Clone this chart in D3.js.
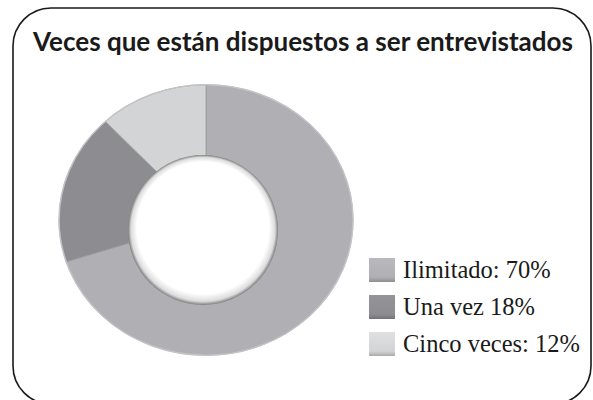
<!DOCTYPE html>
<html><head><meta charset="utf-8">
<script src="https://cdn.jsdelivr.net/npm/d3@7"></script>
<style>body{margin:0;background:#fff;}svg{display:block;}</style>
</head><body>
<svg id="c" width="593" height="400"></svg>
<script>
const title = "Veces que están dispuestos a ser entrevistados";
const categories = ["Ilimitado", "Una vez", "Cinco veces"];
const values = [70, 18, 12];
const legendLabels = ["Ilimitado: 70%", "Una vez 18%", "Cinco veces: 12%"];
const colors = ["#b0b0b4", "#8d8d91", "#d3d4d6"];

const svg = d3.select("#c");
const defs = svg.append("defs");
const rg = defs.append("radialGradient").attr("id","hole")
  .attr("cx","0.5").attr("cy","0.5").attr("fx","0.5").attr("fy","0.38").attr("r","0.5");
rg.append("stop").attr("offset","0.88").attr("stop-color","#ffffff");
rg.append("stop").attr("offset","0.96").attr("stop-color","#dcdcdc");
rg.append("stop").attr("offset","1").attr("stop-color","#7e7e7e");
colors.forEach((c,i)=>{
  const lg = defs.append("linearGradient").attr("id","lg"+i).attr("x1","0").attr("y1","0").attr("x2","0").attr("y2","1");
  lg.append("stop").attr("offset","0").attr("stop-color",d3.color(c).brighter(0.15));
  lg.append("stop").attr("offset","0.8").attr("stop-color",c);
  lg.append("stop").attr("offset","1").attr("stop-color",d3.color(c).darker(0.6));
});

// frame
svg.append("rect").attr("x",13).attr("y",8).attr("width",578).attr("height",396)
  .attr("rx",38).attr("ry",38).attr("fill","none").attr("stroke","#1a1a1a").attr("stroke-width",1.6);

svg.append("text").attr("x",303).attr("y",51).attr("text-anchor","middle")
  .attr("font-family","Lato, 'Open Sans', sans-serif").attr("font-weight","bold")
  .attr("font-size",27).attr("fill","#1a1a1a")
  .attr("textLength",540).attr("lengthAdjust","spacingAndGlyphs")
  .text(title);

const pie = d3.pie().sort(null).value(d=>d)(values);
const arc = d3.arc().innerRadius(55).outerRadius(147);
const g = svg.append("g").attr("transform","translate(206,220) scale(1,0.92)");
g.selectAll("path").data(pie).join("path")
  .attr("d",arc).attr("fill",(d,i)=>colors[i])
  .attr("stroke","#9a9a9e").attr("stroke-width",0.8);
g.append("circle").attr("r",147).attr("fill","none").attr("stroke","#c4c4c8").attr("stroke-width",1.5);

// hole
svg.append("circle").attr("cx",203).attr("cy",230).attr("r",75).attr("fill","url(#hole)");

// legend
const lg = svg.append("g");
const rows = lg.selectAll("g").data(legendLabels).join("g")
  .attr("transform",(d,i)=>`translate(369,${258+i*37})`);
rows.append("rect").attr("width",26).attr("height",24).attr("fill",(d,i)=>`url(#lg${i})`);
rows.append("text").attr("x",34).attr("y",20)
  .attr("font-family","'Liberation Serif', 'DejaVu Serif', serif").attr("font-size",24.5)
  .attr("fill","#1a1a1a").text(d=>d);
</script>
</body></html>
